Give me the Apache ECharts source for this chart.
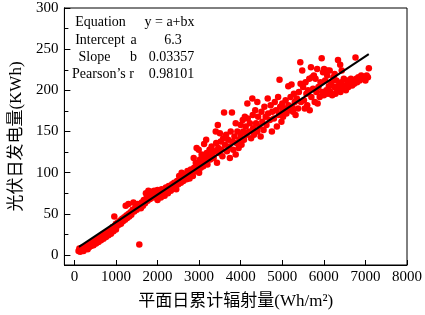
<!DOCTYPE html>
<html>
<head>
<meta charset="utf-8">
<script src="https://cdn.jsdelivr.net/npm/echarts@6/dist/echarts.min.js"></script>
<style>html,body{margin:0;padding:0;background:#fff}#c{width:425px;height:315px}</style>
</head>
<body>
<div id="c"></div>
<script>
// ---- data (radiation Wh/m², power KWh) ----
const pts0to1000 = [[100,5],[120,8],[140,4],[160,6],[180,9],[200,7],[220,5],[240,10],[260,8],[280,11],[300,9],[320,7],[340,12],[360,10],[380,14],[400,11],[420,13],[440,16],[460,12],[480,15],[500,18],[520,14],[540,17],[560,20],[580,16],[600,19],[620,22],[640,18],[660,21],[680,25],[700,20],[720,23],[740,27],[760,22],[780,26],[800,29],[820,24],[840,28],[860,31],[880,26],[900,30],[920,34],[940,29],[960,47],[960,33],[980,36],[1000,31],[1000,38]];
const pts1000to2000 = [[1020,35],[1050,40],[1070,37],[1100,42],[1120,38],[1150,44],[1170,41],[1200,46],[1220,43],[1234,60],[1250,48],[1270,45],[1300,62],[1300,50],[1320,47],[1350,52],[1370,49],[1400,55],[1420,64],[1440,53],[1460,57],[1480,60],[1500,55],[1520,62],[1550,58],[1562,13],[1580,61],[1600,57],[1620,64],[1650,60],[1670,67],[1700,63],[1720,75],[1740,70],[1760,66],[1780,78],[1800,72],[1820,68],[1850,77],[1870,74],[1900,70],[1920,78],[1940,73],[1960,76],[1980,71],[2000,79],[2000,67]];
const pts2000to3000 = [[2020,72],[2050,76],[2080,70],[2100,80],[2120,74],[2150,78],[2170,72],[2200,82],[2220,77],[2250,75],[2270,84],[2300,80],[2320,78],[2350,86],[2370,82],[2400,88],[2420,84],[2450,80],[2470,90],[2500,86],[2520,96],[2540,92],[2560,88],[2580,100],[2600,94],[2620,90],[2650,98],[2670,94],[2700,92],[2720,102],[2750,97],[2770,93],[2800,104],[2820,100],[2850,96],[2870,118],[2880,106],[2900,102],[2920,112],[2940,130],[2950,108],[2970,104],[2990,128],[3000,110],[3000,100]];
const pts3000to4000 = [[3020,116],[3040,106],[3060,122],[3080,112],[3100,108],[3120,135],[3130,118],[3150,114],[3170,140],[3180,124],[3200,110],[3220,120],[3250,128],[3270,116],[3300,132],[3320,122],[3350,118],[3370,126],[3400,150],[3410,136],[3430,112],[3450,158],[3460,130],[3480,124],[3500,148],[3520,138],[3540,128],[3560,120],[3580,142],[3600,173],[3620,134],[3650,146],[3670,126],[3700,140],[3720,132],[3740,118],[3760,150],[3790,173],[3800,138],[3820,128],[3850,144],[3880,160],[3880,122],[3900,136],[3920,150],[3950,130],[3970,140],[4000,158],[4000,146]];
const pts4000to5000 = [[4020,134],[4050,164],[4060,150],[4080,140],[4100,168],[4120,156],[4140,146],[4160,184],[4170,166],[4200,150],[4220,160],[4250,142],[4280,190],[4290,170],[4300,154],[4320,146],[4350,176],[4370,160],[4400,186],[4400,150],[4420,168],[4450,156],[4480,144],[4500,174],[4520,162],[4550,152],[4570,180],[4600,168],[4620,158],[4650,190],[4660,172],[4700,164],[4720,182],[4750,150],[4760,174],[4800,166],[4820,186],[4850,176],[4870,156],[4900,192],[4920,170],[4934,213],[4950,180],[4980,162],[5000,184],[5000,174]];
const pts5000to6000 = [[5020,168],[5050,178],[5080,188],[5100,172],[5145,205],[5150,182],[5180,176],[5200,192],[5222,207],[5240,180],[5260,174],[5280,196],[5300,186],[5320,170],[5350,190],[5380,178],[5400,198],[5433,234],[5440,208],[5450,186],[5480,224],[5500,204],[5520,188],[5540,178],[5560,210],[5580,196],[5600,182],[5620,200],[5650,214],[5660,176],[5690,228],[5700,192],[5720,216],[5740,202],[5760,218],[5780,186],[5800,214],[5820,198],[5840,226],[5850,184],[5870,204],[5900,192],[5920,210],[5948,239],[5960,198],[5980,222],[6000,194],[6005,226]];
const pts6000to7100 = [[6030,212],[6060,200],[6080,218],[6090,224],[6100,196],[6120,205],[6140,224],[6160,198],[6180,210],[6200,194],[6230,216],[6250,204],[6260,220],[6280,196],[6300,212],[6320,200],[6340,237],[6360,206],[6393,231],[6400,198],[6420,210],[6430,224],[6450,202],[6480,214],[6500,206],[6530,200],[6560,212],[6590,204],[6620,208],[6650,214],[6680,206],[6700,212],[6730,208],[6761,240],[6780,214],[6800,210],[6830,216],[6860,212],[6900,218],[6930,214],[6960,216],[7000,212],[7030,218],[7060,216],[7082,227]];
const fitLine = [[110,10.0],[7080,244.0]];
const xTickValues = [0,1000,2000,3000,4000,5000,6000,7000,8000];
const yTickValues = [0,50,100,150,200,250,300];
const yMinorTicks = [25,75,125,175,225,275];
const statLabels = ['Equation','Intercept','Slope','Pearson\u2019s r'];
const statSub = ['','a','b',''];
const statValues = ['y = a+bx','6.3','0.03357','0.98101'];
const xTitle = '平面日累计辐射量(Wh/m\u00b2)';
const yTitle = '光伏日发电量(KWh)';

const allPts = [].concat(pts0to1000, pts1000to2000, pts2000to3000, pts3000to4000, pts4000to5000, pts5000to6000, pts6000to7100);

const FONT = '"Liberation Serif", "Times New Roman", "Noto Sans CJK SC", serif';
const chart = echarts.init(document.getElementById('c'), null, {renderer: 'canvas'});

const labelX = [100.5, 100, 94.5, 103];
const rowY = [22.5, 40, 57.3, 74];
const subX = 133.5;
const valX = [169.5, 173, 171.5, 171.5];
const graphics = [];
function txt(t, x, y) {
  return {type: 'text', x: x, y: y, z: 100,
    style: {text: t, font: '14px ' + FONT, fill: '#000', textAlign: 'center', textVerticalAlign: 'middle', align: 'center', verticalAlign: 'middle'}};
}
statLabels.forEach((t, i) => {
  graphics.push(txt(t, labelX[i], rowY[i]));
  if (statSub[i]) graphics.push(txt(statSub[i], subX, rowY[i]));
  graphics.push(txt(statValues[i], valX[i], rowY[i]));
});

chart.setOption({
  animation: false,
  backgroundColor: '#fff',
  grid: {left: 57, right: 16, top: 8, bottom: 49, show: true, borderColor: '#000', borderWidth: 1, backgroundColor: 'transparent'},
  xAxis: [{
    type: 'value', min: -240, max: 8000,
    axisLine: {show: true, onZero: false, lineStyle: {color: '#000', width: 1}},
    axisTick: {show: true, inside: true, length: 5, customValues: xTickValues, lineStyle: {color: '#000'}},
    axisLabel: {customValues: xTickValues, formatter: v => String(v), color: '#000', fontFamily: FONT, fontSize: 15, margin: 5},
    splitLine: {show: false},
    name: xTitle, nameLocation: 'middle', nameGap: 28,
    nameTextStyle: {color: '#000', fontFamily: FONT, fontSize: 17}
  }],
  yAxis: [{
    type: 'value', min: -12, max: 300,
    axisLine: {show: true, onZero: false, lineStyle: {color: '#000', width: 1}},
    axisTick: {show: true, inside: true, length: 6, customValues: yTickValues, lineStyle: {color: '#000'}},
    axisLabel: {customValues: yTickValues, formatter: v => String(v), color: '#000', fontFamily: FONT, fontSize: 15, margin: 6},
    splitLine: {show: false},
    name: yTitle, nameLocation: 'middle', nameGap: 36,
    nameTextStyle: {color: '#000', fontFamily: FONT, fontSize: 17}
  }, {
    type: 'value', min: -12, max: 300, position: 'left',
    axisLine: {show: true, onZero: false, lineStyle: {color: '#000', width: 1}},
    axisTick: {show: true, inside: true, length: 4, customValues: yMinorTicks, lineStyle: {color: '#000'}},
    axisLabel: {show: false},
    splitLine: {show: false}
  }],
  graphic: graphics,
  series: [{
    type: 'scatter', data: allPts, symbolSize: 6.5,
    itemStyle: {color: '#ff0000', opacity: 1}, z: 2
  }, {
    type: 'line', data: fitLine, showSymbol: false, symbol: 'none',
    lineStyle: {color: '#000', width: 2}, z: 3
  }]
});
</script>
</body>
</html>
